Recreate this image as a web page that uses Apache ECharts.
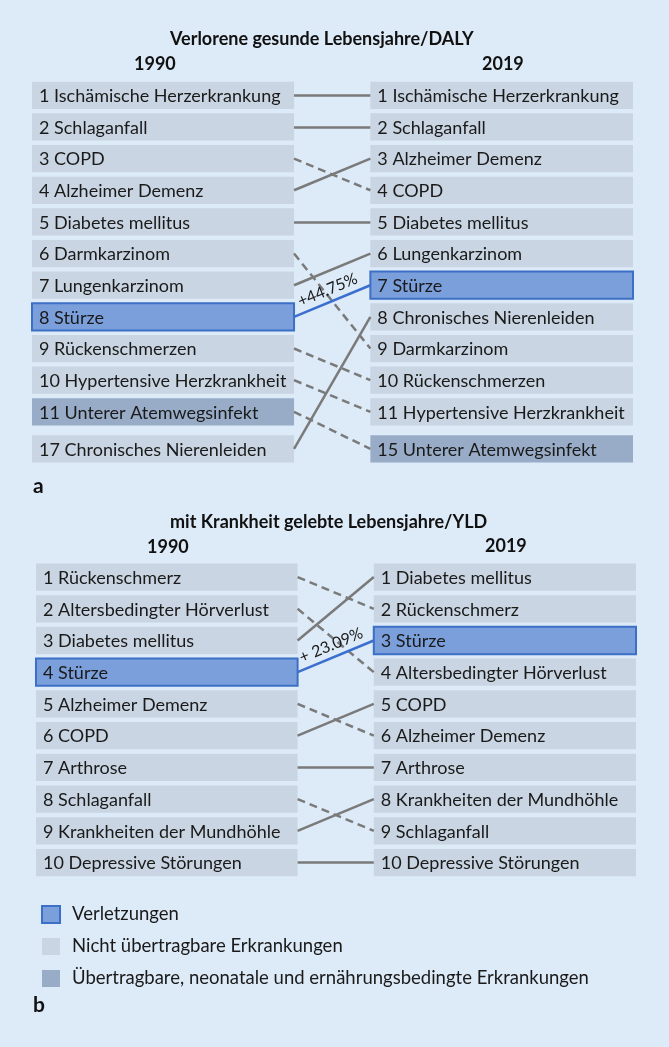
<!DOCTYPE html>
<html>
<head>
<meta charset="utf-8">
<script src="https://cdn.jsdelivr.net/npm/echarts@6.0.0/dist/echarts.min.js"></script>
<style>
  html, body { margin: 0; padding: 0; background: #ddeaf7; }
  #chart { width: 669px; height: 1047px; }
</style>
</head>
<body>
<div id="chart"></div>
<script>
// Rangfolgen DALY (a)
const dalyLeftNames = ['Ischämische Herzerkrankung', 'Schlaganfall', 'COPD', 'Alzheimer Demenz', 'Diabetes mellitus',
    'Darmkarzinom', 'Lungenkarzinom', 'Stürze', 'Rückenschmerzen', 'Hypertensive Herzkrankheit',
    'Unterer Atemwegsinfekt', 'Chronisches Nierenleiden']
const dalyLeftRanks = [1, 2, 3, 4, 5, 6, 7, 8, 9, 10, 11, 17]
const dalyRightNames = ['Ischämische Herzerkrankung', 'Schlaganfall', 'Alzheimer Demenz', 'COPD', 'Diabetes mellitus',
    'Lungenkarzinom', 'Stürze', 'Chronisches Nierenleiden', 'Darmkarzinom', 'Rückenschmerzen',
    'Hypertensive Herzkrankheit', 'Unterer Atemwegsinfekt']
const dalyRightRanks = [1, 2, 3, 4, 5, 6, 7, 8, 9, 10, 11, 15]
const dalyChange = '+44.75%'

// Rangfolgen YLD (b)
const yldLeftNames = ['Rückenschmerz', 'Altersbedingter Hörverlust', 'Diabetes mellitus', 'Stürze', 'Alzheimer Demenz',
    'COPD', 'Arthrose', 'Schlaganfall', 'Krankheiten der Mundhöhle', 'Depressive Störungen']
const yldLeftRanks = [1, 2, 3, 4, 5, 6, 7, 8, 9, 10]
const yldRightNames = ['Diabetes mellitus', 'Rückenschmerz', 'Stürze', 'Altersbedingter Hörverlust', 'COPD',
    'Alzheimer Demenz', 'Arthrose', 'Krankheiten der Mundhöhle', 'Schlaganfall', 'Depressive Störungen']
const yldRightRanks = [1, 2, 3, 4, 5, 6, 7, 8, 9, 10]
const yldChange = '+ 23.09%'

const panelTitles = ['Verlorene gesunde Lebensjahre/DALY', 'mit Krankheit gelebte Lebensjahre/YLD']
const years = ['1990', '2019']
const panelLetters = ['a', 'b']

// Gruppen
const groupNames = ['Verletzungen', 'Nicht übertragbare Erkrankungen', 'Übertragbare, neonatale und ernährungsbedingte Erkrankungen']
const injuryNames = ['Stürze']
const communicableNames = ['Unterer Atemwegsinfekt']

// layout
const LEFT_END = 0.436
const RIGHT_START = 0.563
const BOX_H = 0.86
const RANK_GAP = 0.17
const FONT = 'Lato'
const groupStyles = [
    { color: '#7b9fdb', borderColor: '#3c6fc6', borderWidth: 2 },
    { color: '#c9d5e2', borderColor: '#c9d5e2', borderWidth: 0 },
    { color: '#98acc8', borderColor: '#98acc8', borderWidth: 0 }
]

function groupOf(name) {
    if (injuryNames.indexOf(name) >= 0) return 0
    if (communicableNames.indexOf(name) >= 0) return 2
    return 1
}

function buildColumn(names, ranks, col) {
    let items = []
    let slot = 0
    for (let i = 0; i < names.length; i++) {
        slot += 1
        if (i > 0 && ranks[i] - ranks[i - 1] > 1) slot += RANK_GAP
        items.push({ name: names[i], rank: ranks[i], col: col, slot: slot, group: groupOf(names[i]) })
    }
    return items
}

function makeBoxSeries(items, group, gridIndex) {
    const list = items.filter(it => it.group === group)
    const st = groupStyles[group]
    return {
        type: 'custom',
        name: groupNames[group],
        xAxisIndex: gridIndex,
        yAxisIndex: gridIndex,
        silent: true,
        itemStyle: { color: st.color, borderColor: st.borderColor, borderWidth: st.borderWidth },
        data: list.map(it => [it.col, it.slot]),
        renderItem: function (params, api) {
            const it = list[params.dataIndex]
            const x0 = it.col === 0 ? 0 : RIGHT_START
            const x1 = it.col === 0 ? LEFT_END : 1
            const p0 = api.coord([x0, it.slot])
            const p1 = api.coord([x1, it.slot])
            const h = api.size([0, BOX_H])[1]
            return {
                type: 'group',
                children: [
                    {
                        type: 'rect',
                        shape: { x: p0[0], y: p0[1] - h / 2, width: p1[0] - p0[0], height: h },
                        style: { fill: st.color, stroke: st.borderWidth ? st.borderColor : null, lineWidth: st.borderWidth }
                    },
                    {
                        type: 'text',
                        style: {
                            x: p0[0] + 7, y: p0[1] + 1,
                            text: it.rank + ' ' + it.name,
                            fill: '#1a1a1a', fontSize: 18, fontFamily: FONT,
                            verticalAlign: 'middle', align: 'left'
                        }
                    }
                ]
            }
        }
    }
}

function makeLinkSeries(left, right, change, gridIndex) {
    let data = []
    for (let i = 0; i < left.length; i++) {
        const l = left[i]
        const r = right.find(x => x.name === l.name)
        if (!r) continue
        let item = {
            coords: [[LEFT_END, l.slot], [RIGHT_START, r.slot]],
            lineStyle: { type: r.rank > l.rank ? [8, 5] : 'solid' }
        }
        if (l.group === 0) {
            item.lineStyle = { type: 'solid', color: '#3a6fd0' }
            item.label = { show: true, formatter: change, position: 'middle', fontSize: 16, fontFamily: FONT, color: '#1a1a1a', distance: 4 }
        }
        data.push(item)
    }
    return {
        type: 'lines',
        coordinateSystem: 'cartesian2d',
        xAxisIndex: gridIndex,
        yAxisIndex: gridIndex,
        silent: true,
        lineStyle: { color: '#7a7a7a', width: 2.5, opacity: 1 },
        label: { show: false },
        data: data
    }
}

function titleText(text, left, cy, size, weight) {
    return {
        text: text, left: left, top: cy - size / 2 - 1, padding: 0,
        textStyle: { fontSize: size, fontWeight: weight, color: '#111', fontFamily: FONT }
    }
}

function chart() {
    var dom = document.getElementById('chart')
    var myChart = echarts.init(dom, null, { renderer: 'canvas', useDirtyRect: false })

    const aLeft = buildColumn(dalyLeftNames, dalyLeftRanks, 0)
    const aRight = buildColumn(dalyRightNames, dalyRightRanks, 1)
    const bLeft = buildColumn(yldLeftNames, yldLeftRanks, 0)
    const bRight = buildColumn(yldRightNames, yldRightRanks, 1)
    const aMax = Math.max(aLeft[aLeft.length - 1].slot, aRight[aRight.length - 1].slot) + 0.5
    const bMax = Math.max(bLeft[bLeft.length - 1].slot, bRight[bRight.length - 1].slot) + 0.5

    let series = []
    for (let g = 0; g < 3; g++) {
        series.push(makeBoxSeries(aLeft.concat(aRight), g, 0))
        series.push(makeBoxSeries(bLeft.concat(bRight), g, 1))
    }
    series.push(makeLinkSeries(aLeft, aRight, dalyChange, 0))
    series.push(makeLinkSeries(bLeft, bRight, yldChange, 1))

    var option = {
        backgroundColor: '#ddeaf7',
        animation: false,
        title: [
            titleText(panelTitles[0], 170, 40, 18, 'bold'),
            titleText(years[0], 134, 65, 18, 'bold'),
            titleText(years[1], 482, 65, 18, 'bold'),
            titleText(panelLetters[0], 33, 487, 21, 'bold'),
            titleText(panelTitles[1], 170, 523, 18, 'bold'),
            titleText(years[0], 147, 548, 18, 'bold'),
            titleText(years[1], 485, 547, 18, 'bold'),
            titleText(panelLetters[1], 33, 1006, 21, 'bold')
        ],
        grid: [
            { left: 32, width: 601, top: 79.5, height: (aMax - 0.5) * 31.65 },
            { left: 36, width: 600, top: 561.2, height: (bMax - 0.5) * 31.72 }
        ],
        xAxis: [
            { type: 'value', gridIndex: 0, min: 0, max: 1, show: false },
            { type: 'value', gridIndex: 1, min: 0, max: 1, show: false }
        ],
        yAxis: [
            { type: 'value', gridIndex: 0, min: 0.5, max: aMax, inverse: true, show: false },
            { type: 'value', gridIndex: 1, min: 0.5, max: bMax, inverse: true, show: false }
        ],
        legend: {
            data: groupNames,
            orient: 'vertical',
            left: 41, top: 905,
            padding: 0,
            itemWidth: 18, itemHeight: 17, itemGap: 13,
            icon: 'rect',
            selectedMode: false,
            textStyle: { fontSize: 18.5, fontFamily: FONT, color: '#1a1a1a', padding: [0, 0, 0, 7] }
        },
        series: series
    }

    option && myChart.setOption(option)
    window.addEventListener('resize', myChart.resize)
}

chart()
</script>
</body>
</html>
